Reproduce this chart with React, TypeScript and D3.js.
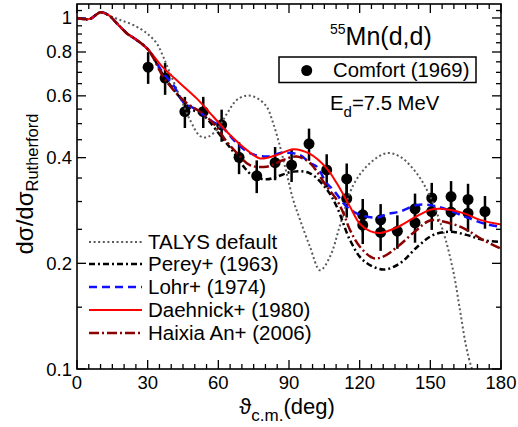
import * as d3 from 'd3'

const ANGLE_TICKS = [0, 30, 60, 90, 120, 150, 180]
const RATIO_TICKS = [0.1, 0.2, 0.4, 0.6, 0.8, 1]
const RATIO_MINOR = [0.15, 0.25, 0.3, 0.35, 0.45, 0.5, 0.55, 0.65, 0.7, 0.75, 0.85, 0.9, 0.95, 1.05]

// Comfort (1969) measured points
const comfortAngle = [30.2, 37.4, 45.8, 53.6, 61.4, 68.8, 76.3, 84.1, 91.1, 98.5, 106, 114.5, 114.5, 121.3, 121.3, 128.9, 128.9, 136, 143.5, 143.5, 150.6, 150.6, 158.8, 158.8, 166, 166, 173.2]
const comfortRatio = [0.724, 0.674, 0.541, 0.541, 0.496, 0.401, 0.355, 0.387, 0.381, 0.438, 0.369, 0.348, 0.306, 0.275, 0.257, 0.266, 0.245, 0.247, 0.286, 0.261, 0.307, 0.281, 0.31, 0.28, 0.304, 0.278, 0.281]
const comfortError = [0.075, 0.07, 0.055, 0.055, 0.052, 0.042, 0.038, 0.042, 0.04, 0.046, 0.04, 0.037, 0.036, 0.03, 0.03, 0.029, 0.028, 0.027, 0.03, 0.032, 0.032, 0.032, 0.033, 0.033, 0.033, 0.032, 0.03]

const talys = [
  [0, 1.0], [5.5, 0.994], [9.8, 1.037], [14, 1.013], [18.3, 0.987], [23.9, 0.955], [29.6, 0.905],
  [33.8, 0.847], [36.6, 0.776], [39.5, 0.696], [43.7, 0.597], [48, 0.512], [52.2, 0.461], [55.1, 0.457],
  [59.3, 0.48], [63.6, 0.533], [67.8, 0.584], [72, 0.601], [76.3, 0.592], [80.5, 0.559], [83.3, 0.501],
  [86.2, 0.43], [89, 0.361], [91.8, 0.303], [94.7, 0.266], [98.9, 0.223], [103.2, 0.191], [107.4, 0.209],
  [111.7, 0.257], [117.3, 0.334], [124.4, 0.386], [131.5, 0.412], [137.1, 0.403], [144.2, 0.361],
  [149.9, 0.31], [155.5, 0.246], [159.8, 0.189], [162.6, 0.147], [165.1, 0.117], [167.7, 0.1], [170.2, 0.092],
]
const perey = [
  [0, 1.0], [5.5, 0.994], [9.8, 1.037], [13.3, 1.02], [16.9, 0.966], [21.1, 0.905], [25.3, 0.866], [30.3, 0.811],
  [36.6, 0.688], [42.3, 0.61], [48, 0.553], [53.6, 0.529], [60.7, 0.464], [66.4, 0.415], [70.5, 0.379],
  [74.7, 0.355], [80.5, 0.347], [84.8, 0.353], [91.8, 0.365], [98.9, 0.361], [106, 0.325], [110.3, 0.29],
  [115.9, 0.233], [121.5, 0.204], [130, 0.192], [137.1, 0.2], [144.2, 0.222], [151.3, 0.241], [158.4, 0.246],
  [165.4, 0.241], [172.5, 0.233], [180, 0.23],
]
const lohr = [
  [0, 1.0], [5.5, 0.994], [9.8, 1.037], [13.3, 1.02], [16.9, 0.966], [21.1, 0.905], [25.3, 0.866], [30.3, 0.811],
  [36.6, 0.696], [40.9, 0.644], [45.1, 0.577], [50.8, 0.547], [56.5, 0.512], [62.1, 0.485], [67.8, 0.44],
  [73.4, 0.412], [80.5, 0.403], [87.6, 0.413], [94.7, 0.407], [98.9, 0.386], [101.8, 0.377], [106, 0.338],
  [108.8, 0.324], [114.5, 0.29], [120.1, 0.275], [127.2, 0.27], [131.5, 0.276], [137.1, 0.281], [144.2, 0.293],
  [149.9, 0.293], [155.5, 0.287], [164, 0.273], [172.5, 0.26], [180, 0.254],
]
const daehnick = [
  [0, 1.0], [5.5, 0.994], [9.8, 1.037], [13.3, 1.02], [16.9, 0.966], [21.1, 0.905], [25.3, 0.866], [30.3, 0.811],
  [36.6, 0.722], [43.7, 0.652], [50.8, 0.59], [57.9, 0.523], [65, 0.464], [72, 0.421], [77.7, 0.398],
  [84.8, 0.407], [91.8, 0.423], [98.9, 0.41], [106, 0.373], [110.3, 0.338], [115.9, 0.29], [120.1, 0.259],
  [124.4, 0.247], [128.6, 0.244], [135.7, 0.253], [142.8, 0.269], [149.9, 0.284], [154.1, 0.286], [164, 0.278],
  [171.1, 0.266], [180, 0.258],
]
const haixia = [
  [0, 1.0], [5.5, 0.994], [9.8, 1.037], [13.3, 1.02], [16.9, 0.966], [21.1, 0.905], [25.3, 0.866], [30.3, 0.811],
  [36.6, 0.68], [40.9, 0.624], [46.6, 0.572], [52.2, 0.541], [57.9, 0.501], [63.6, 0.444], [67.8, 0.413],
  [73.4, 0.381], [80.5, 0.377], [87.6, 0.394], [93.3, 0.403], [98.9, 0.386], [106, 0.331], [110.3, 0.303],
  [113.1, 0.278], [115.9, 0.249], [120.1, 0.223], [125.8, 0.207], [130, 0.209], [137.1, 0.226], [144.2, 0.249],
  [149.9, 0.265], [155.5, 0.263], [164, 0.252], [172.5, 0.233], [180, 0.22],
]

const SERIES = [
  { name: 'TALYS default', data: talys, color: '#5a5a5a', width: 2, dash: '2 2.6' },
  { name: 'Perey+ (1963)', data: perey, color: '#000000', width: 2.5, dash: '6 3 2 3' },
  { name: 'Lohr+ (1974)', data: lohr, color: '#1010ff', width: 2.5, dash: '8 5' },
  { name: 'Daehnick+ (1980)', data: daehnick, color: '#ff0000', width: 2, dash: null },
  { name: 'Haixia An+ (2006)', data: haixia, color: '#8b0000', width: 2.5, dash: '10 3 2 3' },
]

const W = 518
const H = 427
const M = { left: 77, right: 501, top: 4, bottom: 369 }
const FONT = '"Liberation Sans", Arial, Helvetica, sans-serif'

export default function App() {
  const x = d3.scaleLinear().domain([0, 180]).range([M.left, M.right])
  const y = d3.scaleLog().domain([0.1, 1.096]).range([M.bottom, M.top])
  const line = d3
    .line<number[]>()
    .x((d) => x(d[0]))
    .y((d) => y(d[1]))
    .curve(d3.curveCatmullRom.alpha(0.5))

  const xMinor = d3.range(5, 180, 5).filter((v) => v % 30 !== 0)
  const legendRows = [242, 264, 287, 310, 333]

  return (
    <svg width={W} height={H} style={{ position: 'absolute', left: 0, top: 0, background: '#fff' }} fontFamily={FONT}>
      <defs>
        <clipPath id="plot">
          <rect x={M.left} y={M.top} width={M.right - M.left} height={M.bottom - M.top} />
        </clipPath>
      </defs>

      {/* ticks */}
      <g stroke="#000" strokeWidth={1.3}>
        {ANGLE_TICKS.map((t) => (
          <g key={'xt' + t}>
            <line x1={x(t)} x2={x(t)} y1={M.bottom} y2={M.bottom - 9} />
            <line x1={x(t)} x2={x(t)} y1={M.top} y2={M.top + 9} />
          </g>
        ))}
        {xMinor.map((t) => (
          <g key={'xm' + t}>
            <line x1={x(t)} x2={x(t)} y1={M.bottom} y2={M.bottom - 5} />
            <line x1={x(t)} x2={x(t)} y1={M.top} y2={M.top + 5} />
          </g>
        ))}
        {RATIO_TICKS.map((t) => (
          <g key={'yt' + t}>
            <line x1={M.left} x2={M.left + 9} y1={y(t)} y2={y(t)} />
            <line x1={M.right} x2={M.right - 9} y1={y(t)} y2={y(t)} />
          </g>
        ))}
        {RATIO_MINOR.map((t) => (
          <g key={'ym' + t}>
            <line x1={M.left} x2={M.left + 5} y1={y(t)} y2={y(t)} />
            <line x1={M.right} x2={M.right - 5} y1={y(t)} y2={y(t)} />
          </g>
        ))}
      </g>

      {/* tick labels */}
      <g fontSize={18.5} fill="#000">
        {ANGLE_TICKS.map((t) => (
          <text key={'xl' + t} x={x(t)} y={389} textAnchor="middle">
            {t}
          </text>
        ))}
        {RATIO_TICKS.map((t) => (
          <text key={'yl' + t} x={72} y={y(t) + 6.5} textAnchor="end">
            {t}
          </text>
        ))}
      </g>

      {/* data points */}
      <g>
        {comfortAngle.map((a, i) => (
          <g key={'p' + i}>
            <line
              x1={x(a)}
              x2={x(a)}
              y1={y(comfortRatio[i] + comfortError[i])}
              y2={y(comfortRatio[i] - comfortError[i])}
              stroke="#000"
              strokeWidth={2.5}
            />
            <circle cx={x(a)} cy={y(comfortRatio[i])} r={5.5} fill="#000" />
          </g>
        ))}
      </g>

      {/* model curves */}
      <g clipPath="url(#plot)" fill="none">
        {SERIES.map((s) => (
          <path
            key={s.name}
            d={line(s.data) || ''}
            stroke={s.color}
            strokeWidth={s.width}
            strokeDasharray={s.dash || undefined}
          />
        ))}
      </g>

      {/* frame */}
      <rect
        x={M.left}
        y={M.top}
        width={M.right - M.left}
        height={M.bottom - M.top}
        fill="none"
        stroke="#000"
        strokeWidth={1.6}
      />

      {/* curve legend */}
      <g fontSize={20.5}>
        {SERIES.map((s, i) => (
          <g key={'lg' + s.name}>
            <line
              x1={89}
              x2={142}
              y1={legendRows[i]}
              y2={legendRows[i]}
              stroke={s.color}
              strokeWidth={s.width}
              strokeDasharray={s.dash || undefined}
            />
            <text x={148} y={legendRows[i] + 7}>
              {s.name}
            </text>
          </g>
        ))}
      </g>

      {/* title and data legend */}
      <text x={330} y={45} fontSize={25}>
        <tspan fontSize={14} dy={-11}>55</tspan>
        <tspan dy={11}>Mn(d,d)</tspan>
      </text>
      <rect x={279} y={57} width={197} height={25.5} fill="#fff" stroke="#000" strokeWidth={1.5} />
      <circle cx={306.7} cy={70.5} r={5.5} fill="#000" />
      <text x={333} y={77} fontSize={20.3}>
        Comfort (1969)
      </text>
      <text x={330} y={110} fontSize={20.3}>
        E<tspan fontSize={15} dy={7}>d</tspan>
        <tspan dy={-7}>=7.5 MeV</tspan>
      </text>

      {/* axis titles */}
      <text x={287} y={414} fontSize={22} textAnchor="middle">
        ϑ<tspan fontSize={17} dy={7}>c.m.</tspan>
        <tspan dy={-7}>(deg)</tspan>
      </text>
      <text transform="translate(33,184) rotate(-90)" fontSize={24} textAnchor="middle">
        dσ/dσ<tspan fontSize={16.5} dy={5}>Rutherford</tspan>
      </text>
    </svg>
  )
}
